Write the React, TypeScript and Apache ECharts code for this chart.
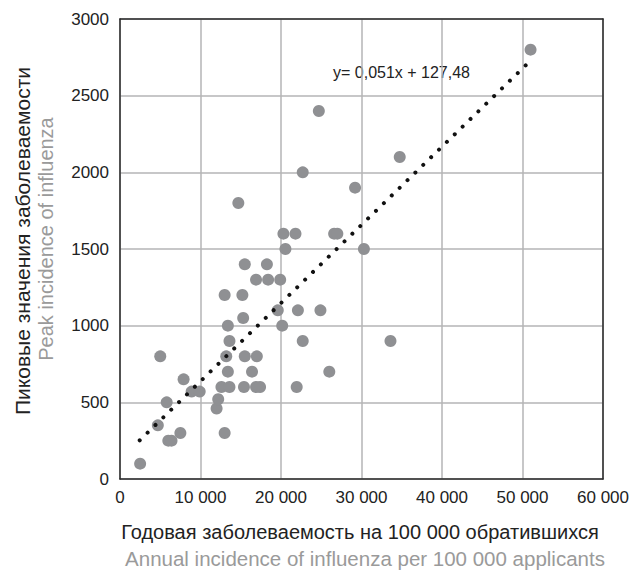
import React, { useEffect, useRef } from "react";
import * as echarts from "echarts";

const annualIncidence = [
  2500, 4700, 5000, 5800, 6000, 6400, 7500, 7900, 8900, 9900,
  12000, 12200, 13000, 12600, 13600, 15400, 16900, 17400, 21950, 13400,
  16400, 13200, 15500, 17000, 13600, 22700, 13400, 15300, 20150, 19600,
  22100, 24900, 13000, 15200, 16900, 18400, 19900, 15500, 18250, 20550,
  30300, 20300, 21800, 26600, 27000, 14700, 29200, 22700, 34750, 24700,
  51000, 33600, 26000,
];
const peakIncidence = [
  100, 350, 800, 500, 250, 250, 300, 650, 570, 570,
  460, 520, 300, 600, 600, 600, 600, 600, 600, 700,
  700, 800, 800, 800, 900, 900, 1000, 1050, 1000, 1100,
  1100, 1100, 1200, 1200, 1300, 1300, 1300, 1400, 1400, 1500,
  1500, 1600, 1600, 1600, 1600, 1800, 1900, 2000, 2100, 2400,
  2800, 900, 700,
];
const trendSlope = 0.051;
const trendIntercept = 127.48;
const trendRange = [2450, 50400];
const equationText = "y= 0,051x + 127,48";
const yTitleRu = "Пиковые значения заболеваемости";
const yTitleEn = "Peak incidence of influenza";
const xTitleRu = "Годовая заболеваемость на 100 000 обратившихся";
const xTitleEn = "Annual incidence of influenza per 100 000 applicants";

const FONT = "'Liberation Sans', Arial, sans-serif";

export default function App() {
  const ref = useRef<HTMLDivElement>(null);
  useEffect(() => {
    if (!ref.current) return;
    const chart = echarts.init(ref.current, undefined, { renderer: "svg" });
    const points = annualIncidence.map((x, i) => [x, peakIncidence[i]]);
    const trend = trendRange.map((x) => [x, trendSlope * x + trendIntercept]);
    const fmt = (v: number) => String(v).replace(/\B(?=(\d{3})+(?!\d))/g, " ");
    const gridLine = { show: true, lineStyle: { color: "#b4b4b6", width: 1.5 } };
    const darkLine = { show: true, lineStyle: { color: "#2a2a2a", width: 1.5 } };
    chart.setOption({
      animation: false,
      textStyle: { fontFamily: FONT },
      grid: { left: 120, right: 27, top: 19, bottom: 92 },
      xAxis: [
        {
          type: "value", min: 0, max: 60000, interval: 10000,
          axisLine: darkLine, axisTick: { show: false }, splitLine: gridLine,
          axisLabel: { formatter: fmt, fontSize: 17, color: "#222", margin: 10, fontFamily: FONT },
        },
        {
          type: "value", min: 0, max: 60000, position: "top",
          axisLine: { ...darkLine, onZero: false }, axisTick: { show: false },
          axisLabel: { show: false }, splitLine: { show: false },
        },
      ],
      yAxis: [
        {
          type: "value", min: 0, max: 3000, interval: 500,
          axisLine: darkLine, axisTick: { show: false }, splitLine: gridLine,
          axisLabel: { formatter: (v: number) => String(v), fontSize: 17, color: "#222", margin: 11, fontFamily: FONT },
        },
        {
          type: "value", min: 0, max: 3000, position: "right",
          axisLine: { ...darkLine, onZero: false }, axisTick: { show: false },
          axisLabel: { show: false }, splitLine: { show: false },
        },
      ],
      series: [
        {
          type: "scatter", data: points, symbolSize: 12,
          itemStyle: { color: "#8f9093", opacity: 1 }, z: 2,
        },
        {
          type: "line", data: trend, symbol: "none", z: 3,
          lineStyle: { color: "#111", width: 4, type: [0.01, 10.97], cap: "round" },
        },
      ],
      graphic: [
        {
          type: "text", x: 333, y: 72,
          style: { text: equationText, font: `16px ${FONT}`, fill: "#222", textVerticalAlign: "middle" },
        },
        {
          type: "text", x: 22, y: 241, rotation: Math.PI / 2,
          style: { text: yTitleRu, font: `21px ${FONT}`, fill: "#222", textAlign: "center", textVerticalAlign: "middle" },
        },
        {
          type: "text", x: 46, y: 239, rotation: Math.PI / 2,
          style: { text: yTitleEn, font: `20px ${FONT}`, fill: "#9a9a9a", textAlign: "center", textVerticalAlign: "middle" },
        },
        {
          type: "text", x: 360, y: 532,
          style: { text: xTitleRu, font: `20px ${FONT}`, fill: "#222", textAlign: "center", textVerticalAlign: "middle" },
        },
        {
          type: "text", x: 365, y: 558,
          style: { text: xTitleEn, font: `20.5px ${FONT}`, fill: "#9a9a9a", textAlign: "center", textVerticalAlign: "middle" },
        },
      ],
    });
    return () => chart.dispose();
  }, []);
  return <div ref={ref} style={{ position: "absolute", left: 0, top: 0, width: 632, height: 571 }} />;
}
